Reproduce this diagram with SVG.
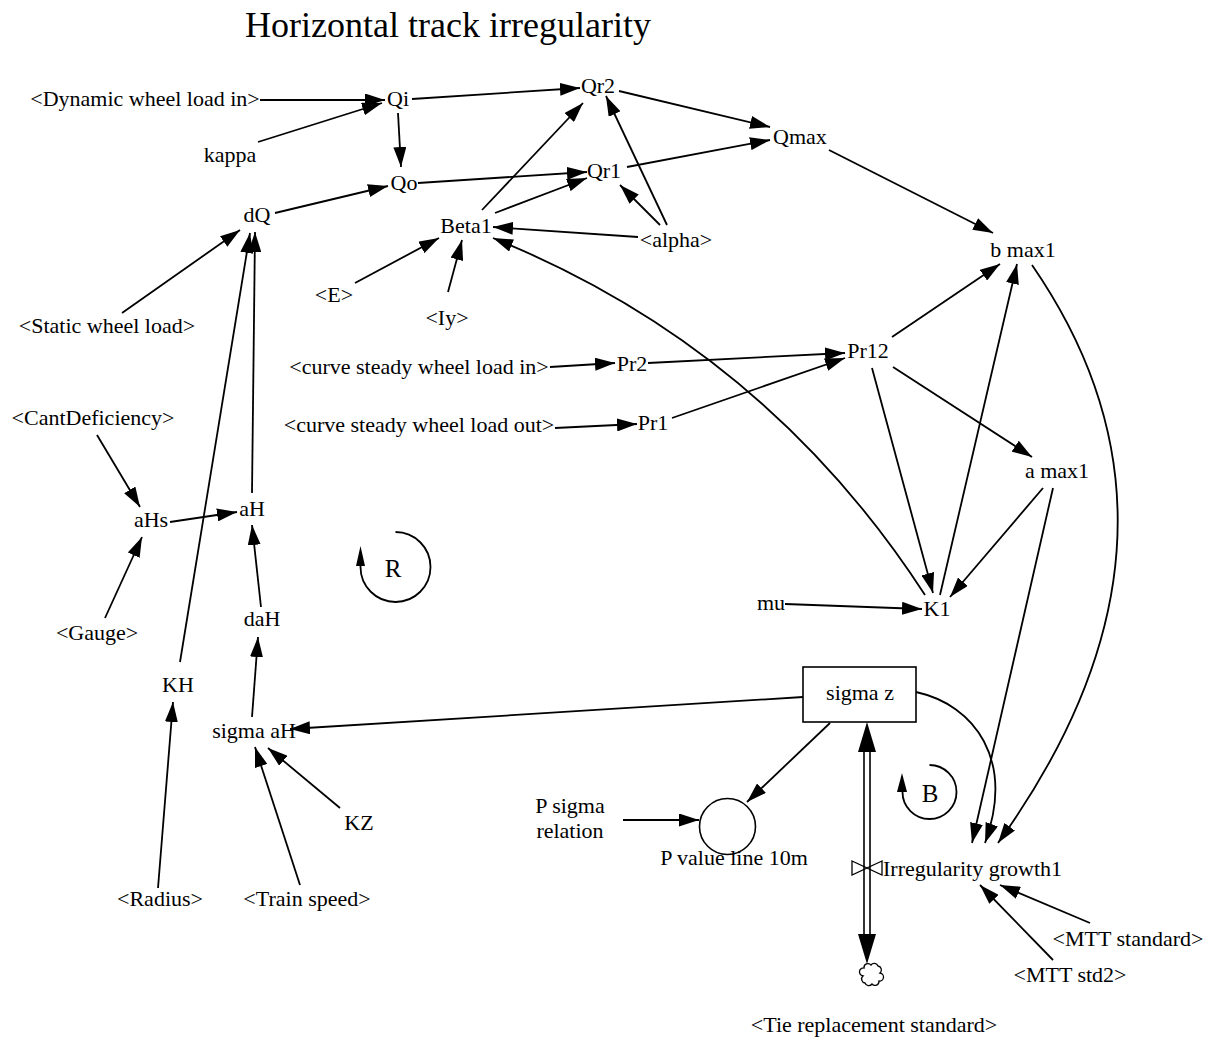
<svg xmlns="http://www.w3.org/2000/svg" width="1209" height="1043" viewBox="0 0 1209 1043">
  <style>
    text { font-family: "Liberation Serif", "Times New Roman", serif; font-size: 22px; fill: #000; text-anchor: middle; }
    .title { font-size: 36px; }
    .loop { font-size: 25px; }
    .lnk { fill: none; stroke: #000; stroke-width: 1.8; marker-end: url(#ah); }
    .ring { fill: none; stroke: #000; stroke-width: 1.8; }
    .pipe { fill: none; stroke: #000; stroke-width: 1.6; }
  </style>
  <defs>
    <marker id="ah" markerUnits="userSpaceOnUse" markerWidth="20" markerHeight="13" viewBox="0 0 20 13" refX="20" refY="6.5" orient="auto">
      <path d="M0,0 L20,6.5 L0,13 z" fill="#000"/>
    </marker>
  </defs>
  <rect width="1209" height="1043" fill="#fff"/>

  <text class="title" x="448" y="37">Horizontal track irregularity</text>

  <!-- causal links -->
  <g id="connectors">
    <path class="lnk" d="M260,100 L385,100"/>
    <path class="lnk" d="M258,142 L382,103"/>
    <path class="lnk" d="M412,99 L580,88"/>
    <path class="lnk" d="M398,113 L401,167"/>
    <path class="lnk" d="M275,213 L388,186"/>
    <path class="lnk" d="M418,183 L587,172"/>
    <path class="lnk" d="M482,210 L583,103"/>
    <path class="lnk" d="M495,213 L587,178"/>
    <path class="lnk" d="M638,237 L493,227"/>
    <path class="lnk" d="M660,225 L620,185"/>
    <path class="lnk" d="M667,225 L606,96"/>
    <path class="lnk" d="M355,283 L439,238"/>
    <path class="lnk" d="M448,292 L462,240"/>
    <path class="lnk" d="M925,595 Q765,348 493,238"/>
    <path class="lnk" d="M619,91 L770,127"/>
    <path class="lnk" d="M627,167 L770,140"/>
    <path class="lnk" d="M829,150 L993,233"/>
    <path class="lnk" d="M892,337 L1000,264"/>
    <path class="lnk" d="M940,595 L1017,264"/>
    <path class="lnk" d="M1032,265 Q1219,536 998,843"/>
    <path class="lnk" d="M1043,488 L950,597"/>
    <path class="lnk" d="M893,367 L1032,457"/>
    <path class="lnk" d="M872,368 L933,593"/>
    <path class="lnk" d="M785,604 L922,609"/>
    <path class="lnk" d="M1053,488 L972,843"/>
    <path class="lnk" d="M916,692 C975,705 1015,760 985,843"/>
    <path class="lnk" d="M803,697 L290,729"/>
    <path class="lnk" d="M830,723 L747,802"/>
    <path class="lnk" d="M623,820 L699,820"/>
    <path class="lnk" d="M340,808 L268,748"/>
    <path class="lnk" d="M300,885 L255,747"/>
    <path class="lnk" d="M158,888 L173,702"/>
    <path class="lnk" d="M105,618 L142,537"/>
    <path class="lnk" d="M97,435 L140,507"/>
    <path class="lnk" d="M170,522 L237,512"/>
    <path class="lnk" d="M261,607 L252,525"/>
    <path class="lnk" d="M252,717 L258,637"/>
    <path class="lnk" d="M252,493 L255,232"/>
    <path class="lnk" d="M180,662 L250,233"/>
    <path class="lnk" d="M122,313 L240,230"/>
    <path class="lnk" d="M648,363 L845,353"/>
    <path class="lnk" d="M672,418 L845,358"/>
    <path class="lnk" d="M550,367 L615,363"/>
    <path class="lnk" d="M555,428 L637,424"/>
    <path class="lnk" d="M1090,923 L1000,885"/>
    <path class="lnk" d="M1053,960 L980,885"/>
  </g>

  <!-- flow between sigma z and the sink, with valve -->
  <g id="flow-irregularity">
    <line class="pipe" x1="864" y1="750" x2="864" y2="936"/>
    <line class="pipe" x1="870" y1="750" x2="870" y2="936"/>
    <polygon points="867,722 858,752 876,752" fill="#000"/>
    <polygon points="867,964 858,934 876,934" fill="#000"/>
    <path d="M852,861 L867,868 L852,875 z M882,861 L867,868 L882,875 z" fill="none" stroke="#000" stroke-width="1.3"/>
    <text x="883" y="876" style="text-anchor:start">Irregularity growth1</text>
  </g>
  <g id="sink-cloud">
    <path d="M864,968 a4,4 0 0 1 7,-3 a4,4 0 0 1 7,1 a4,4 0 0 1 2,7 a4,4 0 0 1 -1,8 a4,4 0 0 1 -7,3 a4,4 0 0 1 -7,-1 a4,4 0 0 1 -2,-7 a4,4 0 0 1 1,-8 z" fill="#fff" stroke="#000" stroke-width="1.3"/>
  </g>

  <!-- loop markers -->
  <g id="loop-R">
    <path class="ring" d="M395.5,532 A35,35 0 1 1 360.5,567 L360.5,562"/>
    <polygon points="360.5,546 356,566 365,566" fill="#000"/>
    <text class="loop" x="393" y="577">R</text>
  </g>
  <g id="loop-B">
    <path class="ring" d="M929.5,765 A27,27 0 1 1 902.5,792 L902.5,788"/>
    <polygon points="902,773 897,792 907,792" fill="#000"/>
    <text class="loop" x="930" y="802">B</text>
  </g>

  <!-- variables -->
  <g id="n-dynamic-wheel-load-in"><text x="145" y="106">&lt;Dynamic wheel load in&gt;</text></g>
  <g id="n-kappa"><text x="230" y="162">kappa</text></g>
  <g id="n-Qi"><text x="398" y="106">Qi</text></g>
  <g id="n-Qr2"><text x="598" y="93">Qr2</text></g>
  <g id="n-Qo"><text x="404" y="190">Qo</text></g>
  <g id="n-dQ"><text x="257" y="222">dQ</text></g>
  <g id="n-Qr1"><text x="604" y="178">Qr1</text></g>
  <g id="n-Beta1"><text x="466" y="233">Beta1</text></g>
  <g id="n-alpha"><text x="676" y="247">&lt;alpha&gt;</text></g>
  <g id="n-E"><text x="334" y="302">&lt;E&gt;</text></g>
  <g id="n-Iy"><text x="447" y="325">&lt;Iy&gt;</text></g>
  <g id="n-Qmax"><text x="800" y="144">Qmax</text></g>
  <g id="n-bmax1"><text x="1023" y="257">b max1</text></g>
  <g id="n-Pr12"><text x="868" y="358">Pr12</text></g>
  <g id="n-static-wheel-load"><text x="107" y="333">&lt;Static wheel load&gt;</text></g>
  <g id="n-curve-in"><text x="419" y="374">&lt;curve steady wheel load in&gt;</text></g>
  <g id="n-Pr2"><text x="632" y="371">Pr2</text></g>
  <g id="n-curve-out"><text x="419" y="432">&lt;curve steady wheel load out&gt;</text></g>
  <g id="n-Pr1"><text x="653" y="430">Pr1</text></g>
  <g id="n-cant-deficiency"><text x="93" y="425">&lt;CantDeficiency&gt;</text></g>
  <g id="n-aHs"><text x="151" y="527">aHs</text></g>
  <g id="n-aH"><text x="252" y="516">aH</text></g>
  <g id="n-gauge"><text x="97" y="640">&lt;Gauge&gt;</text></g>
  <g id="n-daH"><text x="262" y="626">daH</text></g>
  <g id="n-KH"><text x="178" y="692">KH</text></g>
  <g id="n-sigma-aH"><text x="254" y="738">sigma aH</text></g>
  <g id="n-KZ"><text x="359" y="830">KZ</text></g>
  <g id="n-radius"><text x="160" y="906">&lt;Radius&gt;</text></g>
  <g id="n-train-speed"><text x="307" y="906">&lt;Train speed&gt;</text></g>
  <g id="n-mu"><text x="771" y="610">mu</text></g>
  <g id="n-K1"><text x="937" y="616">K1</text></g>
  <g id="n-amax1"><text x="1057" y="478">a max1</text></g>
  <g id="n-sigma-z">
    <rect x="803" y="667" width="113" height="55" fill="#fff" stroke="#000" stroke-width="1.6"/>
    <text x="860" y="700">sigma z</text>
  </g>
  <g id="n-p-value-line">
    <circle cx="727.5" cy="826.5" r="28" fill="#fff" stroke="#000" stroke-width="1.6"/>
    <text x="734" y="865">P value line 10m</text>
  </g>
  <g id="n-p-sigma-relation">
    <text x="570" y="813">P sigma</text>
    <text x="570" y="838">relation</text>
  </g>
  <g id="n-mtt-standard"><text x="1128" y="946">&lt;MTT standard&gt;</text></g>
  <g id="n-mtt-std2"><text x="1070" y="982">&lt;MTT std2&gt;</text></g>
  <g id="n-tie-replacement"><text x="874" y="1032">&lt;Tie replacement standard&gt;</text></g>
</svg>
